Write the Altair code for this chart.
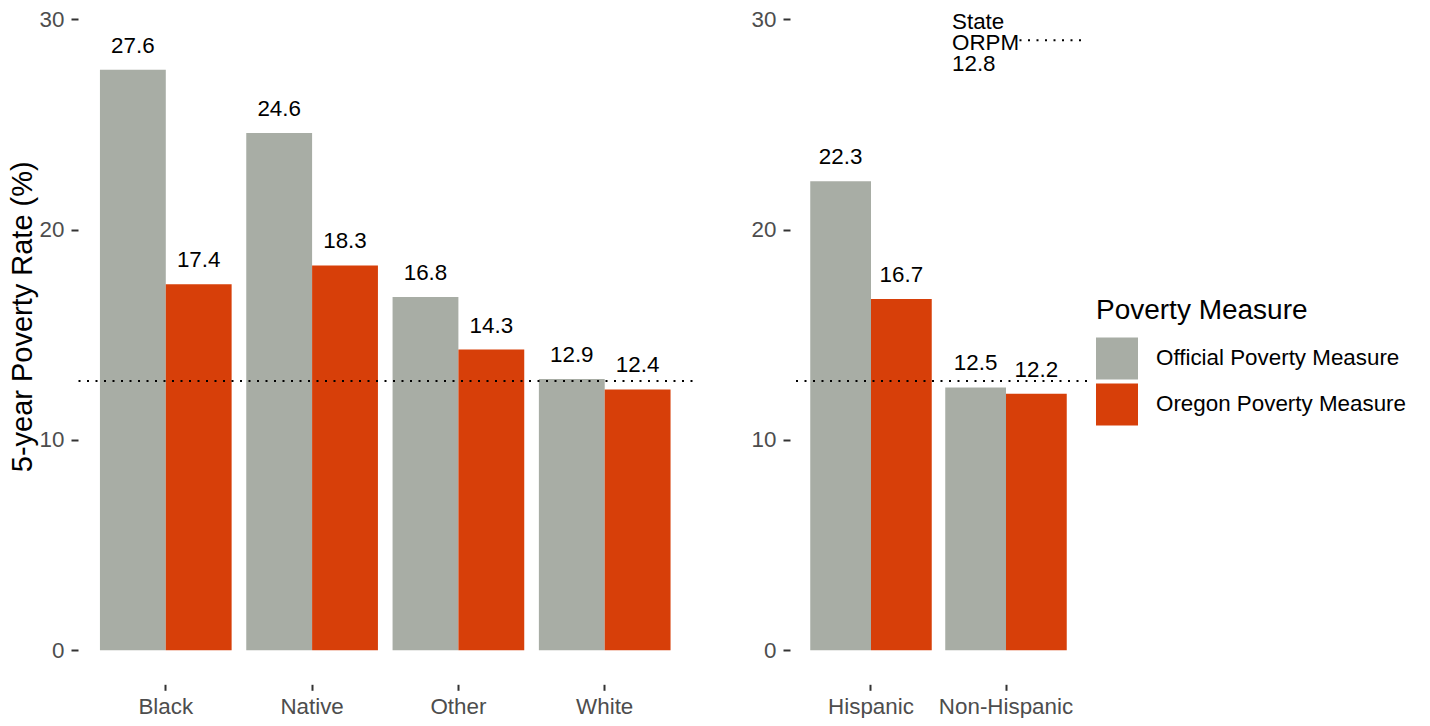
import altair as alt
import pandas as pd

FONT = "Liberation Sans"

measures = ["Official Poverty Measure", "Oregon Poverty Measure"]
colors = ["#A8ADA5", "#D73F09"]

left_groups = ["Black", "Native", "Other", "White"]
left_opm = [27.6, 24.6, 16.8, 12.9]
left_orpm = [17.4, 18.3, 14.3, 12.4]

right_groups = ["Hispanic", "Non-Hispanic"]
right_opm = [22.3, 12.5]
right_orpm = [16.7, 12.2]

state_orpm = 12.8
y_ticks = [0, 10, 20, 30]
y_domain = [-1.617, 30.30]
PLOT_H = 671.3


def make_df(groups, opm, orpm):
    rows = []
    for g, a, b in zip(groups, opm, orpm):
        rows.append({"Group": g, "Measure": measures[0], "Rate": a})
        rows.append({"Group": g, "Measure": measures[1], "Rate": b})
    return pd.DataFrame(rows)


legend = alt.Legend(
    title="Poverty Measure", orient="none", legendX=1018, legendY=284.5,
    titleFontSize=28, titleFont=FONT, titleFontWeight="normal", titleColor="black",
    titlePadding=12, titleLimit=400, labelFontSize=22.4, labelFont=FONT,
    labelColor="black", labelLimit=400, labelOffset=18, symbolType="square",
    symbolSize=1764, symbolStrokeWidth=0, symbolOpacity=1, rowPadding=4, padding=0,
)


def panel(groups, opm, orpm, width, left):
    df = make_df(groups, opm, orpm)
    x = alt.X(
        "Group:N", sort=groups,
        scale=alt.Scale(domain=groups, paddingInner=0.1, paddingOuter=0.15),
        axis=alt.Axis(labelAngle=0, title=None, tickSize=6, tickColor="#333333",
                      tickWidth=2, labelPadding=5, labelFontSize=22.4,
                      labelColor="#4D4D4D", labelFont=FONT, domain=False),
    )
    xo = alt.XOffset("Measure:N", sort=measures,
                     scale=alt.Scale(domain=measures, paddingInner=0, paddingOuter=0))
    common = dict(
        values=y_ticks, tickSize=7, tickColor="#333333", tickWidth=2,
        labelPadding=7, labelFontSize=22.4, labelColor="#4D4D4D", labelFont=FONT,
        domain=False, grid=False, minExtent=39, maxExtent=39,
    )
    if left:
        yaxis = alt.Axis(
            title="5-year Poverty Rate (%)", titleFontSize=29, titleFont=FONT,
            titleFontWeight="normal", titleColor="black", titlePadding=2,
            titleX=-41, titleY=303.3, **common,
        )
    else:
        yaxis = alt.Axis(title=None, **common)
    y = alt.Y("Rate:Q", scale=alt.Scale(domain=y_domain, nice=False), axis=yaxis)
    base = alt.Chart(df)
    bars = base.mark_bar().encode(
        x=x, xOffset=xo, y=y, y2=alt.datum(0),
        color=alt.Color("Measure:N", sort=measures,
                        scale=alt.Scale(domain=measures, range=colors), legend=legend),
    )
    labels = base.mark_text(dy=-17, baseline="alphabetic", fontSize=22.4, font=FONT,
                            color="black").encode(
        x=x, xOffset=xo, y=alt.Y("Rate:Q"), text=alt.Text("Rate:Q", format=".1f"),
    )
    rule = alt.Chart(pd.DataFrame({"Rate": [state_orpm]})).mark_rule(
        strokeDash=[2, 6.5], strokeWidth=2, color="black"
    ).encode(y=alt.Y("Rate:Q"))
    layers = [bars, labels, rule]
    if not left:
        xs = alt.Scale(domain=[0.4, 2.6], nice=False, zero=False)
        txt_df = pd.DataFrame({"xa": [1.6], "Rate": [30.4],
                               "lab": ["State\nORPM\n" + str(state_orpm)]})
        seg_df = pd.DataFrame({"xb": [2.1], "xe": [2.6], "Rate": [29.0]})
        ann_text = alt.Chart(txt_df).mark_text(
            align="left", baseline="top", lineBreak="\n", lineHeight=21,
            fontSize=22.4, font=FONT, color="black",
        ).encode(x=alt.X("xa:Q", scale=xs, axis=None), y=alt.Y("Rate:Q"), text="lab:N")
        ann_seg = alt.Chart(seg_df).mark_rule(
            strokeDash=[2, 6.5], strokeWidth=2, color="black"
        ).encode(x=alt.X("xb:Q", scale=xs, axis=None), x2="xe:Q", y=alt.Y("Rate:Q"))
        ann = alt.layer(ann_text, ann_seg)
        return alt.layer(alt.layer(*layers), ann).resolve_scale(x="independent").properties(
            width=width, height=PLOT_H)
    return alt.layer(*layers).properties(width=width, height=PLOT_H)


left_chart = panel(left_groups, left_opm, left_orpm, 614.5, True)
right_chart = panel(right_groups, right_opm, right_orpm, 297, False)

chart = alt.hconcat(left_chart, right_chart, spacing=57).resolve_scale(
    xOffset="independent"
).properties(padding=0).configure_view(stroke=None).configure_axis(grid=False)

chart.save("out.html", embed_options={"renderer": "svg", "actions": False})
